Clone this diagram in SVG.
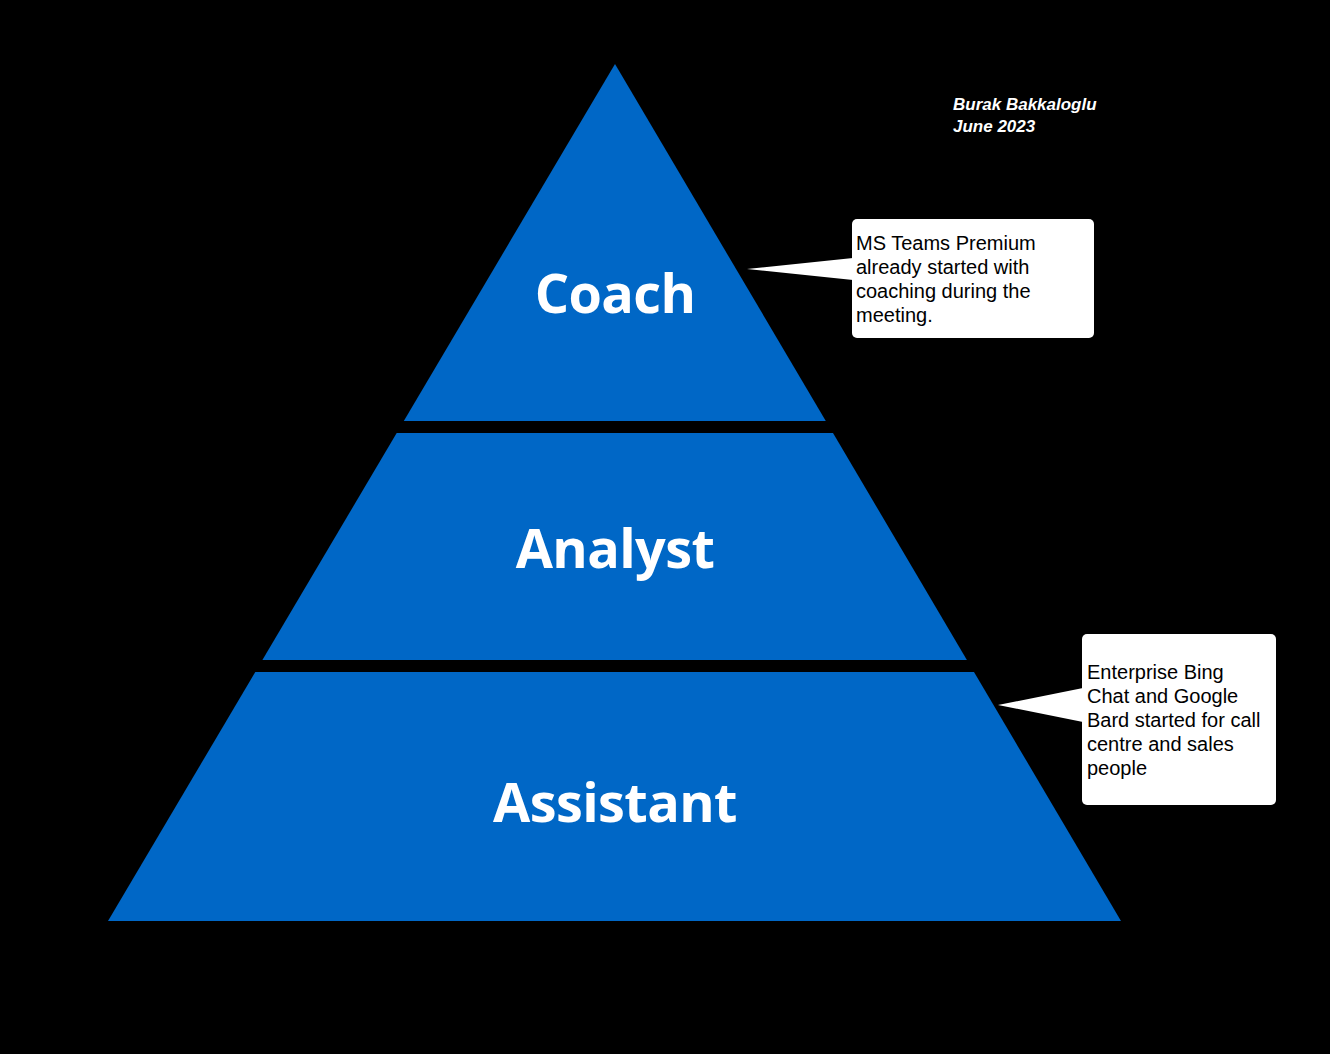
<svg xmlns="http://www.w3.org/2000/svg" width="1330" height="1054" viewBox="0 0 1330 1054">
<style>
.tier{fill:#0067C6}
.lbl{font-family:"Open Sans","Liberation Sans",sans-serif;font-weight:700;font-size:54px;letter-spacing:-0.6px;fill:#fff;text-anchor:middle}
.note{fill:#fff}
.nt{font-family:"Liberation Sans",Arial,sans-serif;font-size:20px;fill:#000}
.auth{font-family:"Liberation Sans",Arial,sans-serif;font-style:italic;font-weight:700;font-size:17px;fill:#fff}
</style>
<rect width="1330" height="1054" fill="#000"/>
<g id="coach">
<polygon class="tier" points="615,64 825.8,421 403.8,421"/>
<text class="lbl" x="615" y="313">Coach</text>
</g>
<g id="analyst">
<polygon class="tier" points="396.7,433 833,433 966.9,660 262.4,660"/>
<text class="lbl" x="615" y="568">Analyst</text>
</g>
<g id="assistant">
<polygon class="tier" points="255.3,672 974,672 1121,921 108,921"/>
<text class="lbl" x="615" y="822">Assistant</text>
</g>
<g id="note-coach">
<rect class="note" x="852" y="219" width="242" height="119" rx="5"/>
<polygon class="note" points="747,269 853,258 853,280"/>
<text class="nt"><tspan x="856" y="250">MS Teams Premium</tspan><tspan x="856" y="274">already started with</tspan><tspan x="856" y="298">coaching during the</tspan><tspan x="856" y="322">meeting.</tspan></text>
</g>
<g id="note-assistant">
<rect class="note" x="1082" y="634" width="194" height="171" rx="5"/>
<polygon class="note" points="998,705 1083,688 1083,722"/>
<text class="nt"><tspan x="1087" y="679">Enterprise Bing</tspan><tspan x="1087" y="703">Chat and Google</tspan><tspan x="1087" y="727">Bard started for call</tspan><tspan x="1087" y="751">centre and sales</tspan><tspan x="1087" y="775">people</tspan></text>
</g>
<g id="author">
<text class="auth"><tspan x="953" y="110">Burak Bakkaloglu</tspan><tspan x="953" y="132">June 2023</tspan></text>
</g>
<g id="connectors"></g>
</svg>
